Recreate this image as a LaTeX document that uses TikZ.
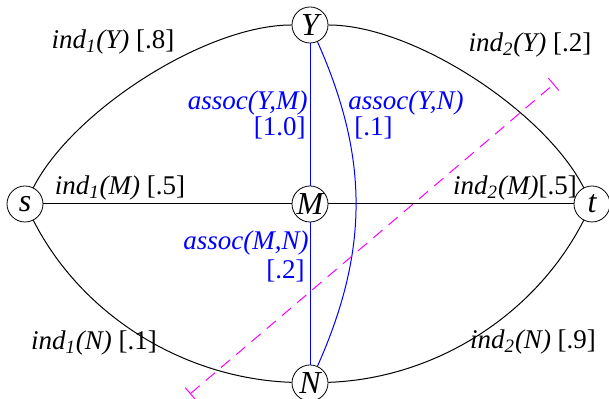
\documentclass[tikz,border=0pt]{standalone}
\usepackage{fontspec}
\setmainfont{Liberation Serif}
\usetikzlibrary{arrows.meta}
\definecolor{cutc}{RGB}{255,0,255}
\newcommand{\ind}[2]{\textit{ind\textsubscript{#1}(#2)}}
\tikzset{vx/.style={circle,draw,fill=white,minimum size=18pt,inner sep=0pt,font=\fontsize{16}{18}\selectfont\itshape},
  lab/.style={font=\fontsize{13.5}{16}\selectfont,inner sep=0pt},
  alab/.style={lab,text=blue},
  link/.style={draw=black,line width=.5pt},
  alink/.style={draw=blue,line width=.5pt},
  cutline/.style={draw=cutc,line width=.5pt,dash pattern=on 6pt off 4pt,{Bar[width=8pt]}-{Bar[width=8pt]}}}
\begin{document}
\begin{tikzpicture}[x=.5pt,y=.5pt]
\useasboundingbox (0,0) rectangle (609,399);
\node[vx] (s) at (25,195) {s};
\node[vx] (t) at (592,195) {t};
\node[vx] (Y) at (310,374) {Y};
\node[vx] (M) at (310,195) {M};
\node[vx] (N) at (310,16) {N};
% individual links
\draw[link] (s) to[out=63,in=180,looseness=.72] (Y) to[out=0,in=117,looseness=.72] (t);
\draw[link] (s) to[out=-63,in=178,looseness=.9] (N) to[out=2,in=-117,looseness=.9] (t);
\draw[link] (s) -- (M) -- (t);
% associations
\draw[alink] (Y) -- (M) -- (N);
\draw[alink] (Y) to[bend left=24] (N);
% cut
\coordinate (c1) at (190,5);
\coordinate (c2) at (554,315);
\draw[cutline] (c1) -- (c2);
\node[lab] (l1) at (113,357) {\ind{1}{Y} [.8]};
\node[lab] (l2) at (530,354) {\ind{2}{Y} [.2]};
\node[lab] (l3) at (120,211) {\ind{1}{M} [.5]};
\node[lab] (l4) at (515,211) {\ind{2}{M}[.5]};
\node[lab] (l5) at (94,56) {\ind{1}{N} [.1]};
\node[lab] (l6) at (533,57) {\ind{2}{N} [.9]};
\node[alab,anchor=east] (a1) at (308,296) {\textit{assoc(Y,M)}};
\node[alab,anchor=east] (a2) at (306,271) {[1.0]};
\node[alab,anchor=west] (a3) at (348,296) {\textit{assoc(Y,N)}};
\node[alab,anchor=west] (a4) at (354,271) {[.1]};
\node[alab,anchor=east] (a5) at (309,156) {\textit{assoc(M,N)}};
\node[alab,anchor=east] (a6) at (305,128) {[.2]};
\end{tikzpicture}
\end{document}
